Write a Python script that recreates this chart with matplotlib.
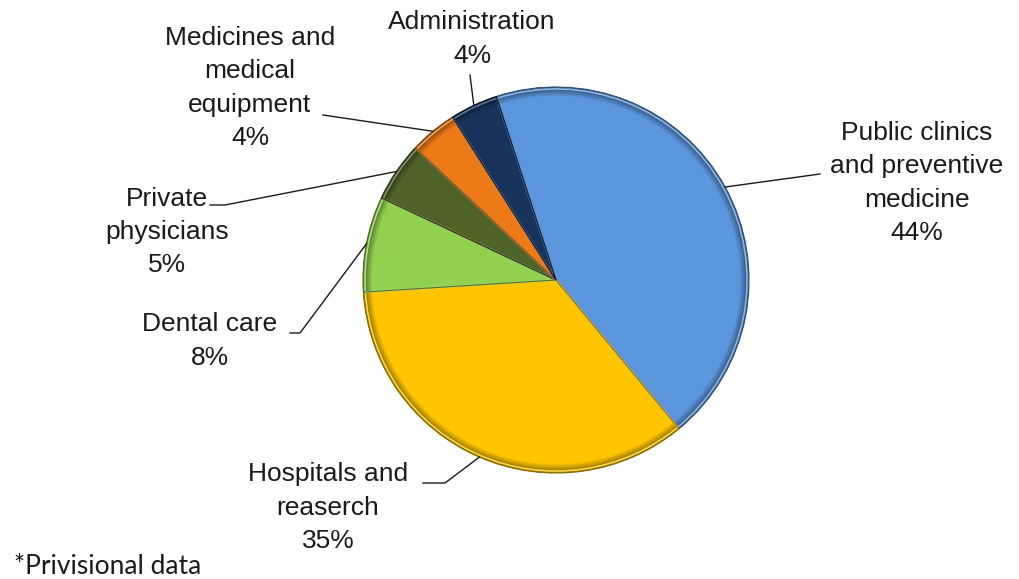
import numpy as np
import matplotlib.pyplot as plt
from matplotlib.patches import Wedge
from matplotlib.colors import to_rgb

# Health spending by category (percent)
categorias = ['Public clinics\nand preventive\nmedicine', 'Hospitals and\nreaserch',
              'Dental care', 'Private\nphysicians', 'Medicines and\nmedical\nequipment',
              'Administration']
porcentajes = [44, 35, 8, 5, 4, 4]
colores = ['#5B96DC', '#FFC600', '#92D050', '#4F6228', '#EC7A17', '#17335C']

ANCHO, ALTO = 1019, 579
centro = (556, ALTO - 280)
radio = 193

fig = plt.figure(figsize=(ANCHO / 100, ALTO / 100), dpi=100)
ax = fig.add_axes([0, 0, 1, 1])


def oscurecer(color, f):
    r, g, b = to_rgb(color)
    return (r * f, g * f, b * f)


def aclarar(color, f):
    r, g, b = to_rgb(color)
    return (r + (1 - r) * f, g + (1 - g) * f, b + (1 - b) * f)


cunas, _ = ax.pie(porcentajes, colors=colores, startangle=108, counterclock=False,
                  center=centro, radius=radio, frame=True,
                  wedgeprops=dict(edgecolor='none'))
ax.set_xlim(0, ANCHO)
ax.set_ylim(0, ALTO)
ax.axis('off')

# bisel: aro exterior que se oscurece hacia el borde y brillo en los cortes
for cuna, color in zip(cunas, colores):
    t1, t2 = cuna.theta1, cuna.theta2
    for i, f in enumerate([0.92, 0.84, 0.76, 0.66, 0.56]):
        ancho = radio * (0.045 - i * 0.008)
        ax.add_patch(Wedge(centro, radio, t1, t2, width=ancho,
                           facecolor=oscurecer(color, f), edgecolor='none'))
    ax.add_patch(Wedge(centro, radio * 0.99, t1, t2, facecolor='none',
                       edgecolor=aclarar(color, 0.3), linewidth=1.2))
    ax.add_patch(Wedge(centro, radio, t1, t2, facecolor='none',
                       edgecolor=oscurecer(color, 0.55), linewidth=0.8))

# posiciones de etiquetas y quiebres de las guias (en pixeles desde arriba)
pos_texto = [(917, 183), (328, 508), (210, 341), (167, 232), (250, 88), (472, 39)]
quiebres = [[(820, 174)], [(423, 483), (445, 483)], [(290, 333), (300, 333)],
            [(210, 205), (225, 205)], [(323, 115)], [(470, 75)]]

for cuna, cat, pct, (tx, ty), puntos in zip(cunas, categorias, porcentajes,
                                             pos_texto, quiebres):
    ang = np.deg2rad((cuna.theta1 + cuna.theta2) / 2)
    borde = (centro[0] + radio * np.cos(ang), centro[1] + radio * np.sin(ang))
    xs = [p[0] for p in puntos] + [borde[0]]
    ys = [ALTO - p[1] for p in puntos] + [borde[1]]
    ax.plot(xs, ys, color='#1a1a1a', linewidth=1.0)
    ax.text(tx, ALTO - ty, f'{cat}\n{pct}%', ha='center', va='center',
            fontsize=19, family='Liberation Sans', color='#1a1a1a', linespacing=1.5)

ax.text(14, ALTO - 566, '*Privisional data', ha='left', va='center',
        fontsize=19, family='Lato', color='#1a1a1a')

fig.savefig('out.png', dpi=100)
